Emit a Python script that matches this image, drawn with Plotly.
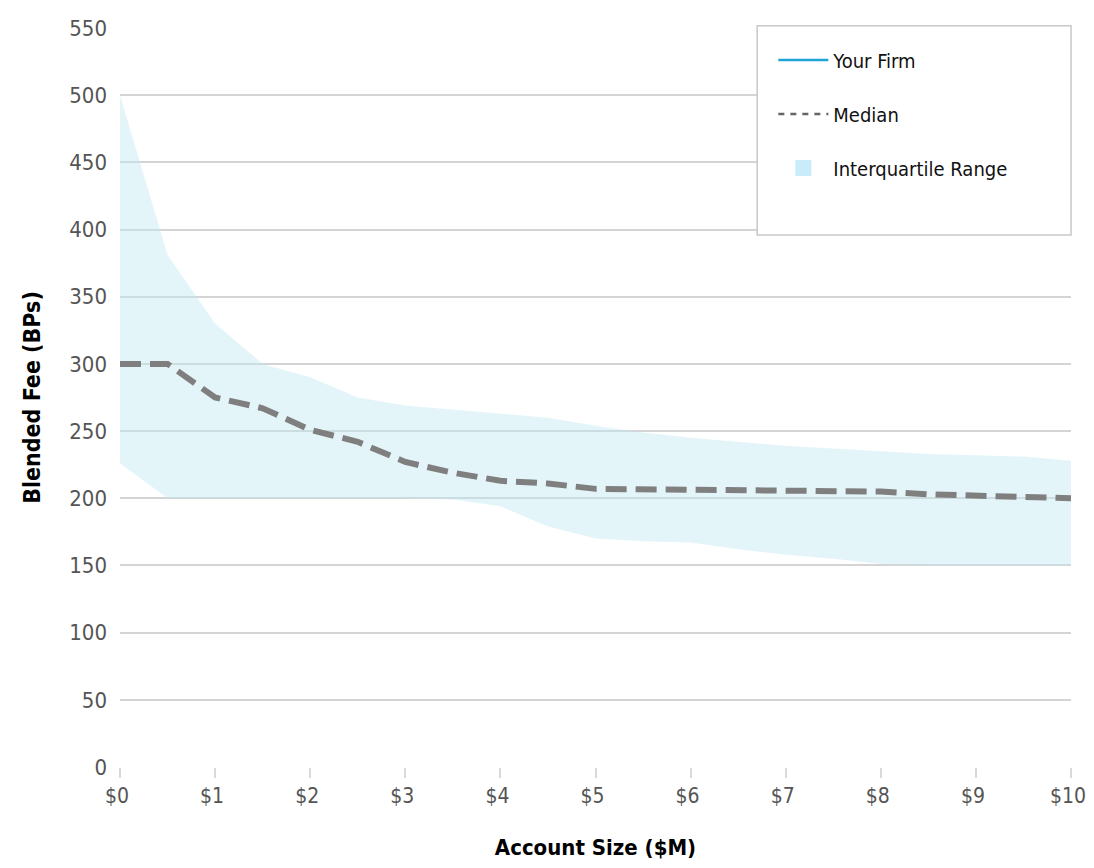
import plotly.graph_objects as go

account_size = [0, 0.5, 1, 1.5, 2, 2.5, 3, 3.5, 4, 4.5, 5, 5.5, 6, 6.5, 7, 7.5, 8, 8.5, 9, 9.5, 10]
iqr_upper = [500, 381, 330, 300, 290, 275, 269, 266, 263, 260, 254, 249, 245, 242, 239, 237, 235, 233, 232, 231, 228]
iqr_lower = [226, 200, 200, 200, 200, 200, 200, 199, 194, 179, 170, 168, 167, 162, 158, 155, 151, 150, 150, 150, 150]
median = [300, 300, 275, 267, 251, 242, 227, 219, 213, 211, 207, 206.5, 206, 205.5, 205, 205, 205, 203, 202, 202, 200]

x_ticks = list(range(0, 11))
x_tick_labels = ["$" + str(v) for v in x_ticks]
y_ticks = list(range(0, 551, 50))

FONT = "DejaVu Sans Condensed, Liberation Sans Narrow, sans-serif"

fig = go.Figure()

# interquartile band
fig.add_trace(go.Scatter(
    x=account_size, y=iqr_lower, mode="lines", line=dict(width=0),
    showlegend=False, hoverinfo="skip"))
fig.add_trace(go.Scatter(
    x=account_size, y=iqr_upper, mode="lines", line=dict(width=0),
    fill="tonexty", fillcolor="rgba(196,232,245,0.45)", showlegend=False))

# median
fig.add_trace(go.Scatter(
    x=account_size, y=median, mode="lines", showlegend=False,
    line=dict(color="#7f7f7f", width=6, dash="21px,9px")))

# legend entries
fig.add_trace(go.Scatter(
    x=[None], y=[None], mode="lines", name="Your Firm",
    line=dict(color="#1ea5d6", width=2.5), legendgroup="a", legendrank=1))
fig.add_trace(go.Scatter(
    x=[None], y=[None], mode="lines", name="Median",
    line=dict(color="#666666", width=2.5, dash="6px,6px"), legendgroup="b", legendrank=2))
fig.add_trace(go.Scatter(
    x=[None], y=[None], mode="markers", name="Interquartile Range",
    marker=dict(symbol="square", size=22, color="#c9ecf9"), legendgroup="c", legendrank=3))

# legend box
fig.add_shape(type="rect", xref="paper", yref="paper",
              x0=0.67, x1=1.0, y0=0.72, y1=1.003,
              line=dict(color="#c8c8c8", width=1.5), fillcolor="white", layer="above")

fig.update_layout(
    width=1086, height=852,
    margin=dict(l=112, r=23, t=20, b=93, autoexpand=False),
    paper_bgcolor="white", plot_bgcolor="rgba(0,0,0,0)",
    font=dict(family=FONT, size=20, color="#555555"),
    showlegend=True,
    legend=dict(x=0.687, y=0.983, xanchor="left", yanchor="top",
                bgcolor="rgba(0,0,0,0)", borderwidth=0,
                font=dict(family=FONT, size=20, color="#111111"),
                tracegroupgap=25, itemwidth=50),
    xaxis=dict(range=[0, 10], tickvals=x_ticks, ticktext=x_tick_labels,
               showgrid=False, zeroline=False, showline=False, automargin=False,
               ticks="outside", ticklen=10, tickwidth=2, tickcolor="#d9d9d9",
               ticklabelshift=-3,
               tickfont=dict(size=21, color="#555555"),
               title=dict(text="<b>Account Size ($M)</b>", standoff=34,
                          font=dict(size=22, color="#000000"))),
    yaxis=dict(range=[0, 550], tickvals=y_ticks, automargin=False,
               showgrid=True, gridcolor="#d4d4d4", gridwidth=2,
               zeroline=False, showline=False, ticks="", ticklabelstandoff=12,
               tickfont=dict(size=22, color="#555555"),
               title=dict(text="<b>Blended Fee (BPs)</b>", standoff=22,
                          font=dict(size=23, color="#000000"))),
)

fig.write_html("out.html")
